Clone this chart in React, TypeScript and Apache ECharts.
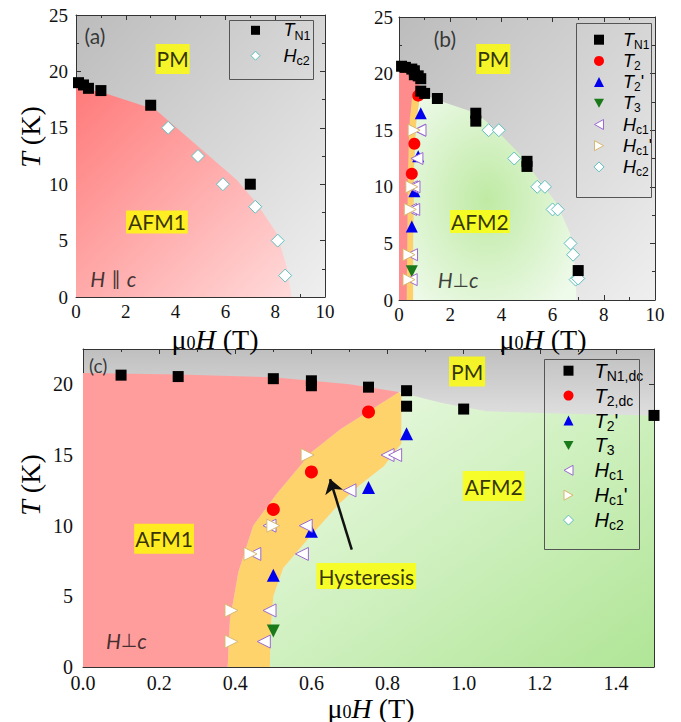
import React, { useEffect, useRef } from "react";
import * as echarts from "echarts";

// ---------- Panel (a): H || c ----------
const A_TN1_H = [0.1, 0.3, 0.5, 1.0, 3.0, 7.0];
const A_TN1_T = [19.0, 18.8, 18.5, 18.3, 17.0, 10.0];
const A_HC2_H = [3.7, 4.9, 5.9, 7.2, 8.1, 8.4];
const A_HC2_T = [15.0, 12.5, 10.0, 8.0, 5.0, 1.9];
// AFM1 phase region boundary (H, T)
const A_AFM1: number[][] = [[0, 0], [0, 18.6], [1.1, 18.1], [3.2, 16.6], [6.45, 10.4], [7.26, 8.3], [8.06, 5.65], [8.46, 2.7], [8.66, 0]];

// ---------- Panels (b) and (c): H ⊥ c ----------
const TN1_H = [0.1, 0.25, 0.5, 0.6, 0.6, 0.75, 0.85, 0.85, 1.0, 1.5];
const TN1_T = [20.65, 20.55, 20.4, 20.25, 19.9, 19.8, 19.55, 18.45, 18.25, 17.8];
const TN1_HIGH_H = [3.0, 3.0, 5.0, 5.0, 7.0];
const TN1_HIGH_T = [16.5, 15.8, 12.25, 11.8, 2.6];
const T2_H = [0.5, 0.6, 0.75];
const T2_T = [11.15, 13.8, 18.05];
const T2P_H = [0.5, 0.6, 0.75, 0.85];
const T2P_T = [6.5, 9.6, 12.7, 16.5];
const T3_H = [0.5];
const T3_T = [2.55];
const HC1_H = [0.475, 0.49, 0.45, 0.49, 0.575, 0.585, 0.7, 0.8, 0.82];
const HC1_T = [1.8, 4.0, 8.0, 10.0, 8.0, 10.0, 12.5, 15.0, 15.0];
const HC1P_H = [0.39, 0.39, 0.44, 0.5, 0.59];
const HC1P_T = [1.8, 4.0, 8.0, 10.0, 15.0];
const HC2_H = [3.5, 3.9, 4.5, 5.4, 5.7, 6.0, 6.2, 6.7, 6.8, 6.9, 7.0];
const HC2_T = [15.0, 15.0, 12.5, 10.0, 10.0, 8.0, 8.0, 5.0, 4.0, 1.8, 1.9];

// phase boundaries, panel (c)
const C_TOP_AFM1: number[][] = [[0, 20.8], [0.25, 20.7], [0.5, 20.5], [0.7, 20.0], [0.83, 19.45]];
const C_RED_ORANGE: number[][] = [[0.83, 19.45], [0.675, 16.8], [0.6, 15.2], [0.51, 12.3], [0.447, 10.0], [0.408, 6.7], [0.386, 3.35], [0.38, 0]];
const C_ORANGE_GREEN: number[][] = [[0.83, 19.45], [0.836, 19.2], [0.836, 15.8], [0.79, 14.2], [0.728, 12.9], [0.675, 11.6], [0.597, 9.26], [0.526, 7.0], [0.5, 5.0], [0.493, 2.65], [0.491, 0]];
const C_TOP_AFM2: number[][] = [[0.83, 19.45], [0.868, 19.2], [0.94, 18.7], [1.06, 18.1], [1.29, 17.9], [1.5, 17.8]];
// phase boundaries, panel (b)
const B_TOP_AFM1: number[][] = [[0, 20.1], [0.3, 20.2], [0.55, 19.9], [0.75, 19.2], [0.88, 18.5]];
const B_RED_ORANGE: number[][] = [[0.88, 18.5], [0.52, 18.1], [0.42, 16.0], [0.38, 13.9], [0.34, 10.0], [0.33, 6.5], [0.3, 0]];
const B_ORANGE_GREEN: number[][] = [[0.88, 18.5], [0.8, 17.8], [0.68, 16.0], [0.62, 14.0], [0.575, 10.9], [0.55, 5.0], [0.55, 0]];
const B_TOP_AFM2: number[][] = [[0.88, 18.5], [0.95, 18.2], [1.46, 17.7], [3.03, 16.5], [3.81, 15.0], [4.79, 12.7], [5.5, 10.5], [6.16, 8.55], [6.68, 5.9], [6.87, 2.95], [6.94, 0]];

// Hysteresis arrow (tail -> tip), panel (c)
const ARROW: number[][] = [[0.706, 8.3], [0.649, 13.3]];

// legend labels (rich text)
const LEGEND_LABELS: Record<string, string> = {
  "a:TN1": "{v|T}{s|N1}",
  "a:Hc2": "{v|H}{s|c2}",
  "b:TN1": "{v|T}{s|N1}",
  "b:T2": "{v|T}{s|2}",
  "b:T2p": "{v|T}{s|2}{p|'}",
  "b:T3": "{v|T}{s|3}",
  "b:Hc1": "{v|H}{s|c1}",
  "b:Hc1p": "{v|H}{s|c1}{p|'}",
  "b:Hc2": "{v|H}{s|c2}",
  "c:TN1": "{v|T}{s|N1,dc}",
  "c:T2": "{v|T}{s|2,dc}",
  "c:T2p": "{v|T}{s|2}{p|'}",
  "c:T3": "{v|T}{s|3}",
  "c:Hc1": "{v|H}{s|c1}",
  "c:Hc1p": "{v|H}{s|c1}{p|'}",
  "c:Hc2": "{v|H}{s|c2}",
};

const SERIF = '"Liberation Serif", "Times New Roman", serif';
const SANS = '"Liberation Sans", Arial, sans-serif';
const NOTE = 'Lato, "Open Sans", sans-serif';
const AX = "#333";

const SYM_SQUARE = "rect";
const SYM_UP = "triangle";
const SYM_DOWN = "path://M0,0L10,0L5,9Z";
const SYM_LEFT = "path://M9,0L9,10L0,5Z";
const SYM_RIGHT = "path://M0,0L9,5L0,10Z";
const SYM_DIAMOND = "diamond";

const zip = (h: number[], t: number[]) => h.map((v, i) => [v, t[i]]);
// panel index -> axis index (each panel has a bottom/top x axis and left/right y axis)
const AXI = (gi: number) => gi * 2;

function axis(gridIndex: number, min: number, max: number, interval: number, position: string, labeled: boolean, fontSize: number, margin: number, decimals: number, hideMax: boolean) {
  return {
    type: "value", gridIndex, min, max, interval, position,
    axisLine: { show: true, onZero: false, lineStyle: { color: AX, width: 1 } },
    axisTick: { show: true, inside: true, length: 5, lineStyle: { color: AX, width: 1 } },
    minorTick: { show: true, splitNumber: 2, length: 3, lineStyle: { color: AX, width: 1 } },
    splitLine: { show: false }, minorSplitLine: { show: false },
    axisLabel: {
      show: labeled, margin, fontFamily: SERIF, fontSize, color: "#111",
      formatter: (v: number) => v.toFixed(decimals),
      showMaxLabel: !hideMax, showMinLabel: true,
    },
    axisPointer: { show: false },
  };
}

function region(gi: number, pts: number[][], fill: any, z: number) {
  return {
    type: "custom", xAxisIndex: AXI(gi), yAxisIndex: AXI(gi), silent: true, z, clip: true,
    data: [[pts[0][0], pts[0][1]]],
    renderItem: (_p: any, api: any) => ({
      type: "polygon",
      shape: { points: pts.map((p) => api.coord(p)) },
      style: { fill, stroke: "none", lineWidth: 0 },
    }),
  };
}

function scat(name: string, gi: number, h: number[], t: number[], symbol: string, size: number, color: string, border?: string) {
  return {
    name, type: "scatter", xAxisIndex: AXI(gi), yAxisIndex: AXI(gi), silent: true, z: 4,
    symbol, symbolSize: size, data: zip(h, t),
    itemStyle: border ? { color: "#fff", borderColor: border, borderWidth: 1, opacity: 1 } : { color, borderWidth: 0, opacity: 1 },
  };
}

const BOX = { backgroundColor: "#ffff00", color: "#000", fontFamily: NOTE, fontSize: 21 };
const noteRich = {
  i: { fontFamily: NOTE, fontStyle: "italic", fontSize: 21, color: "#111" },
  n: { fontFamily: '"DejaVu Sans", sans-serif', fontSize: 19, color: "#111" },
};
function notes(gi: number, items: any[]) {
  return {
    type: "scatter", xAxisIndex: AXI(gi), yAxisIndex: AXI(gi), silent: true, z: 6, symbolSize: 1,
    itemStyle: { color: "rgba(0,0,0,0)" },
    data: items.map((it) => ({
      value: [it.x, it.y],
      label: { show: true, position: "inside", formatter: it.text, rich: noteRich, ...it.style },
    })),
  };
}

function legRich(fs: number, sub: number, lh: number, padLeft: number) {
  return {
    v: { fontFamily: SANS, fontStyle: "italic", fontSize: fs, lineHeight: lh, padding: [0, 0, 0, padLeft], color: "#000" },
    s: { fontFamily: SANS, fontSize: sub, lineHeight: Math.round(sub * 0.95), verticalAlign: "bottom", color: "#000" },
    p: { fontFamily: SANS, fontSize: fs, lineHeight: lh, color: "#000" },
  };
}

function legend(names: string[], left: number, top: number, size: number, gap: number, rich: any) {
  return {
    data: names, orient: "vertical", left, top, padding: 0, itemWidth: size, itemHeight: size, itemGap: gap,
    selectedMode: false, borderWidth: 0, align: "left",
    itemStyle: { borderWidth: "inherit" },
    formatter: (n: string) => LEGEND_LABELS[n],
    textStyle: { fontFamily: SANS, fontSize: 18, color: "#000", rich },
  };
}

const nameRich = {
  m: { fontFamily: SERIF, fontSize: 28, lineHeight: 26, color: "#111" },
  i: { fontFamily: SERIF, fontStyle: "italic", fontSize: 28, lineHeight: 26, color: "#111" },
  s: { fontFamily: SERIF, fontSize: 18, lineHeight: 8, verticalAlign: "bottom", color: "#111" },
};
function axisName(x: number, y: number, text: string, rot: number) {
  return {
    type: "text", x, y, rotation: rot, z: 20,
    style: { text, rich: nameRich, align: "center", verticalAlign: "middle", textAlign: "center", textVerticalAlign: "middle" },
  };
}
function boxRect(x: number, y: number, w: number, h: number) {
  return { type: "rect", z: 20, shape: { x, y, width: w, height: h }, style: { fill: "none", stroke: "#555", lineWidth: 1 } };
}

function buildOption() {
  const G = echarts.graphic;
  const gray = () => new G.LinearGradient(0, 0, 1, 1, [{ offset: 0, color: "#bcbcbc" }, { offset: 1, color: "#efefef" }]);
  const grayC = new G.LinearGradient(0, 0, 0, 1, [{ offset: 0, color: "#bfbfbf" }, { offset: 0.22, color: "#e0e0e0" }, { offset: 1, color: "#f2f2f2" }]);
  const redA = new G.LinearGradient(0, 0, 1, 1, [{ offset: 0, color: "#ff7a7a" }, { offset: 1, color: "#ffdada" }]);
  const greenB = new G.RadialGradient(0.45, 0.52, 0.65, [{ offset: 0, color: "#bfeaa4" }, { offset: 1, color: "#eefaea" }]);
  const greenC = new G.LinearGradient(0, 0, 1, 1, [{ offset: 0, color: "#eefbe8" }, { offset: 1, color: "#b0e596" }]);

  const C_AFM1 = [[0, 0], ...C_TOP_AFM1, ...C_RED_ORANGE.slice(1)];
  const C_HYST = [...C_RED_ORANGE, ...C_ORANGE_GREEN.slice().reverse()];
  const C_AFM2 = [...C_ORANGE_GREEN, [1.5, 0], ...C_TOP_AFM2.slice().reverse()];
  const B_AFM1 = [[0, 0], ...B_TOP_AFM1, ...B_RED_ORANGE.slice(1)];
  const B_HYST = [...B_RED_ORANGE, ...B_ORANGE_GREEN.slice().reverse()];
  const B_AFM2 = [...B_ORANGE_GREEN, ...B_TOP_AFM2.slice().reverse()];

  const series: any[] = [
    // panel a
    region(0, [[0, 0], [10, 0], [10, 25], [0, 25]], gray(), 0),
    region(0, A_AFM1, redA, 1),
    scat("a:Hc2", 0, A_HC2_H, A_HC2_T, SYM_DIAMOND, 13, "#fff", "#5fbfbf"),
    scat("a:TN1", 0, A_TN1_H, A_TN1_T, SYM_SQUARE, 11, "#000"),
    notes(0, [
      { x: 0.76, y: 23.2, text: "(a)", style: { fontFamily: NOTE, fontSize: 21, color: "#111" } },
      { x: 3.88, y: 21.1, text: "PM", style: { ...BOX, padding: [4, 1, 4, 1], lineHeight: 22 } },
      { x: 3.25, y: 6.65, text: "AFM1", style: { ...BOX, padding: [0, 2, 0, 2], lineHeight: 23 } },
      { x: 1.5, y: 1.66, text: "{i|H}{n| ∥ }{i|c}", style: {} },
    ]),
    // panel b
    region(1, [[0, 0], [10, 0], [10, 25], [0, 25]], gray(), 0),
    region(1, B_AFM2, greenB, 1),
    region(1, B_HYST, "#ffcf6a", 1),
    region(1, B_AFM1, "#ff8c8c", 1),
    scat("b:Hc2", 1, HC2_H, HC2_T, SYM_DIAMOND, 13, "#fff", "#5fbfbf"),
    scat("b:T3", 1, T3_H, T3_T, SYM_DOWN, 12, "#1a7a1a"),
    scat("b:T2p", 1, T2P_H, T2P_T, SYM_UP, 12, "#0000ee"),
    scat("b:Hc1", 1, HC1_H, HC1_T, SYM_LEFT, 12, "#fff", "#9a6ad0"),
    scat("b:Hc1p", 1, HC1P_H, HC1P_T, SYM_RIGHT, 12, "#fff", "#d8b870"),
    scat("b:T2", 1, T2_H, T2_T, "circle", 12, "#ff0000"),
    scat("b:TN1", 1, TN1_H.concat(TN1_HIGH_H), TN1_T.concat(TN1_HIGH_T), SYM_SQUARE, 11, "#000"),
    notes(1, [
      { x: 1.79, y: 23.07, text: "(b)", style: { fontFamily: NOTE, fontSize: 21, color: "#111" } },
      { x: 3.68, y: 21.3, text: "PM", style: { ...BOX, padding: [4, 1, 4, 1], lineHeight: 22 } },
      { x: 3.16, y: 6.93, text: "AFM2", style: { ...BOX, padding: [0, 1, 0, 1], lineHeight: 23 } },
      { x: 2.31, y: 1.77, text: "{i|H}{n|⊥}{i|c}", style: {} },
    ]),
    // panel c
    region(2, [[0, 0], [1.5, 0], [1.5, 22.5], [0, 22.5]], grayC, 0),
    region(2, C_AFM2, greenC, 1),
    region(2, C_HYST, "#ffd36c", 1),
    region(2, C_AFM1, "#ff9c9c", 1),
    {
      type: "lines", coordinateSystem: "cartesian2d", xAxisIndex: AXI(2), yAxisIndex: AXI(2), silent: true, z: 5,
      polyline: false, symbol: ["none", "arrow"], symbolSize: [1, 14],
      lineStyle: { color: "#111", width: 2.5, opacity: 1, curveness: 0 },
      effect: { show: false },
      data: [{ coords: ARROW }],
    },
    scat("c:Hc2", 2, HC2_H, HC2_T, SYM_DIAMOND, 13, "#fff", "#5fbfbf"),
    scat("c:T3", 2, T3_H, T3_T, SYM_DOWN, 13, "#1a7a1a"),
    scat("c:T2p", 2, T2P_H, T2P_T, SYM_UP, 13, "#0000ee"),
    scat("c:Hc1", 2, HC1_H, HC1_T, SYM_LEFT, 13, "#fff", "#9a6ad0"),
    scat("c:Hc1p", 2, HC1P_H, HC1P_T, SYM_RIGHT, 13, "#fff", "#d8b870"),
    scat("c:T2", 2, T2_H, T2_T, "circle", 13, "#ff0000"),
    scat("c:TN1", 2, TN1_H, TN1_T, SYM_SQUARE, 11, "#000"),
    notes(2, [
      { x: 0.04, y: 21.3, text: "(c)", style: { fontFamily: NOTE, fontSize: 19, color: "#111" } },
      { x: 1.009, y: 20.9, text: "PM", style: { ...BOX, padding: [4, 2, 4, 2], lineHeight: 22 } },
      { x: 1.079, y: 12.8, text: "AFM2", style: { ...BOX, padding: [4, 2, 4, 2], lineHeight: 22 } },
      { x: 0.213, y: 9.08, text: "AFM1", style: { ...BOX, padding: [4, 1, 4, 1], lineHeight: 22 } },
      { x: 0.744, y: 6.43, text: "Hysteresis", style: { ...BOX, padding: [2, 2, 2, 2], lineHeight: 22 } },
      { x: 0.114, y: 1.89, text: "{i|H}{n|⊥}{i|c}", style: {} },
    ]),
  ];

  return {
    animation: false,
    backgroundColor: "#ffffff",
    grid: [
      { left: 76, top: 15, width: 249, height: 282, containLabel: false, outerBoundsMode: "none" },
      { left: 399, top: 17, width: 256, height: 283, containLabel: false, outerBoundsMode: "none" },
      { left: 83, top: 349, width: 571, height: 318, containLabel: false, outerBoundsMode: "none" },
    ],
    xAxis: [
      axis(0, 0, 10, 2, "bottom", true, 19, 5, 0, false),
      axis(0, 0, 10, 2, "top", false, 19, 5, 0, false),
      axis(1, 0, 10, 2, "bottom", true, 19, 5, 0, false),
      axis(1, 0, 10, 2, "top", false, 19, 5, 0, false),
      axis(2, 0, 1.5, 0.2, "bottom", true, 20, 6, 1, true),
      axis(2, 0, 1.5, 0.2, "top", false, 20, 6, 1, true),
    ],
    yAxis: [
      axis(0, 0, 25, 5, "left", true, 19, 8, 0, false),
      axis(0, 0, 25, 5, "right", false, 19, 8, 0, false),
      axis(1, 0, 25, 5, "left", true, 19, 6, 0, false),
      axis(1, 0, 25, 5, "right", false, 19, 6, 0, false),
      axis(2, 0, 22.5, 5, "left", true, 20, 10, 0, true),
      axis(2, 0, 22.5, 5, "right", false, 20, 10, 0, true),
    ],
    legend: [
      legend(["a:TN1", "a:Hc2"], 250.5, 21.3, 9, 4.4, legRich(18, 12.5, 24, 18.5)),
      legend(["b:TN1", "b:T2", "b:T2p", "b:T3", "b:Hc1", "b:Hc1p", "b:Hc2"], 593.5, 30.7, 10, 1.2, legRich(18, 12, 22, 14)),
      legend(["c:TN1", "c:T2", "c:T2p", "c:T3", "c:Hc1", "c:Hc1p", "c:Hc2"], 563, 360.7, 10, 2.9, legRich(20, 14, 24, 16)),
    ],
    graphic: [
      boxRect(229.5, 20.5, 84, 59),
      boxRect(576.5, 23.5, 75, 174),
      boxRect(544.5, 359.5, 95, 190),
      axisName(215, 339, "{m|μ}{s|0}{i|H}{m| (T)}", 0),
      axisName(543, 339, "{m|μ}{s|0}{i|H}{m| (T)}", 0),
      axisName(371, 708, "{m|μ}{s|0}{i|H}{m| (T)}", 0),
      axisName(30, 137, "{i|T}{m| (K)}", Math.PI / 2),
      axisName(30, 485, "{i|T}{m| (K)}", Math.PI / 2),
    ],
    series,
  };
}

export default function App() {
  const ref = useRef<HTMLDivElement>(null);
  useEffect(() => {
    if (!ref.current) return;
    const chart = echarts.init(ref.current, undefined, { renderer: "svg" });
    chart.setOption(buildOption() as any);
    return () => chart.dispose();
  }, []);
  return <div ref={ref} style={{ position: "absolute", left: 0, top: 0, width: 681, height: 722 }} />;
}
